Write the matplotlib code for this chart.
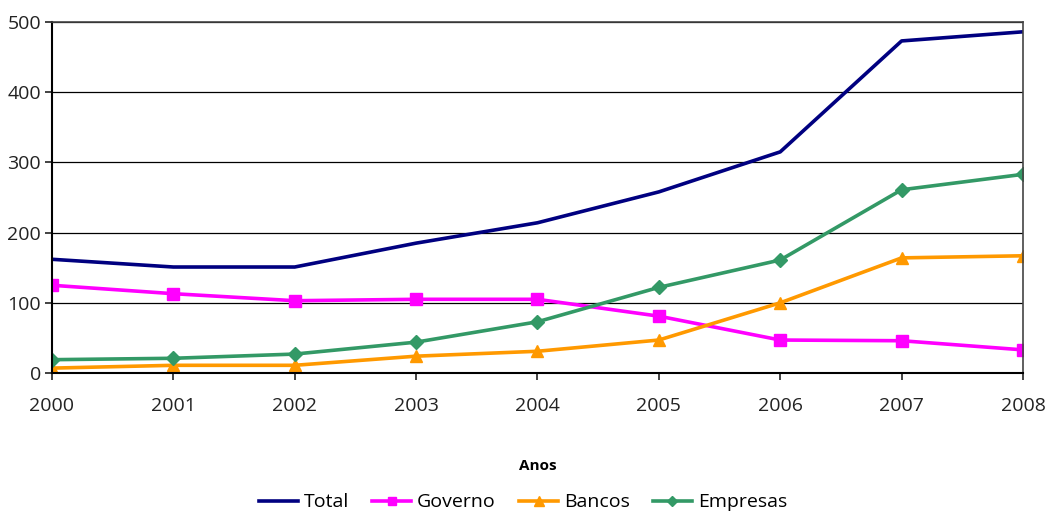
import matplotlib
matplotlib.use("Agg")
import matplotlib.pyplot as plt

# Data
anos = [2000, 2001, 2002, 2003, 2004, 2005, 2006, 2007, 2008]
total = [162, 151, 151, 185, 214, 258, 315, 473, 486]
governo = [125, 113, 103, 105, 105, 81, 47, 46, 33]
bancos = [7, 11, 11, 24, 31, 47, 100, 164, 167]
empresas = [19, 21, 27, 44, 73, 122, 161, 261, 283]

plt.rcParams['font.family'] = ['Open Sans', 'DejaVu Sans']

fig = plt.figure(figsize=(10.46, 5.11), dpi=100)
ax = fig.add_axes([0.0497, 0.270, 0.9283, 0.687])

ax.plot(anos, total, color='#000080', lw=2.6, label='Total')
ax.plot(anos, governo, color='#FF00FF', lw=2.6, marker='s', ms=8, label='Governo')
ax.plot(anos, bancos, color='#FF9900', lw=2.6, marker='^', ms=9, label='Bancos')
ax.plot(anos, empresas, color='#339966', lw=2.6, marker='D', ms=7, label='Empresas')

ax.set_xlim(2000, 2008)
ax.set_ylim(0, 500)
ax.set_xticks(anos)
ax.set_yticks([0, 100, 200, 300, 400, 500])
ax.yaxis.grid(True, color='black', lw=0.9)
ax.set_axisbelow(True)

for s in ['left', 'bottom']:
    ax.spines[s].set_color('black')
    ax.spines[s].set_linewidth(1.5)
for s in ['top', 'right']:
    ax.spines[s].set_color('#444444')
    ax.spines[s].set_linewidth(1.2)

ax.tick_params(axis='both', labelsize=14, direction='out', length=5, width=1.2, colors='#222222')
ax.tick_params(axis='x', pad=12)
ax.tick_params(axis='y', pad=3)

ax.set_xlabel('Anos', fontsize=11, fontweight='bold', labelpad=32)

leg = fig.legend(loc='lower center', ncol=4, frameon=False, fontsize=14,
                 bbox_to_anchor=(0.5, -0.035), handlelength=2.0, columnspacing=1.2,
                 handletextpad=0.3, markerscale=0.8)

fig.savefig('out.png', dpi=100, facecolor='white')
